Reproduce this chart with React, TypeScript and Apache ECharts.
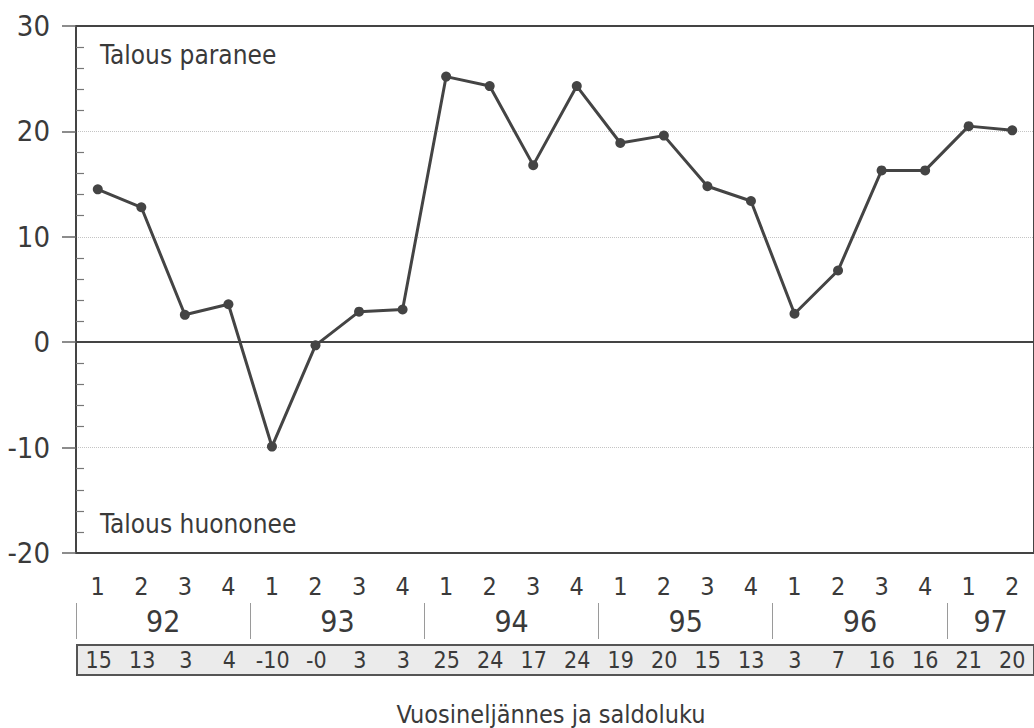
import React, { useEffect, useRef } from "react";
import * as echarts from "echarts";

const quarters = ["1","2","3","4","1","2","3","4","1","2","3","4","1","2","3","4","1","2","3","4","1","2"];
const years = ["92","92","92","92","93","93","93","93","94","94","94","94","95","95","95","95","96","96","96","96","97","97"];
const saldo = [14.5, 12.8, 2.6, 3.6, -9.9, -0.3, 2.9, 3.1, 25.2, 24.3, 16.8, 24.3, 18.9, 19.6, 14.8, 13.4, 2.7, 6.8, 16.3, 16.3, 20.5, 20.1];
const tableLabels = ["15","13","3","4","-10","-0","3","3","25","24","17","24","19","20","15","13","3","7","16","16","21","20"];
const yTicks = { min: -20, max: 30, interval: 10 };
const texts = { up: "Talous paranee", down: "Talous huononee", title: "Vuosineljännes ja saldoluku" };

const FONT = "'DejaVu Sans Condensed', 'Liberation Sans Narrow', sans-serif";
const TXT = "#3a3a3a";

export default function App() {
  const ref = useRef<HTMLDivElement>(null);
  useEffect(() => {
    if (!ref.current) return;
    const chart = echarts.init(ref.current, undefined, { renderer: "svg" });
    const band = 43.8;
    const gridW = band * quarters.length;
    const yearLabelIdx = new Set<number>();
    years.forEach((y, i) => {
      const first = years.indexOf(y);
      const last = years.lastIndexOf(y);
      const mid = Math.floor((first + last) / 2);
      if (i === mid) yearLabelIdx.add(i);
    });
    const option: any = {
      animation: false,
      backgroundColor: "#fff",
      textStyle: { fontFamily: FONT },
      grid: [
        { left: 76, top: 26, width: gridW, height: 527, show: true, borderColor: "#444", borderWidth: 2, backgroundColor: "transparent" },
        { left: 77, top: 645, width: gridW, height: 30, show: true, borderColor: "#555", borderWidth: 2, backgroundColor: "#ebebeb" },
      ],
      xAxis: [
        {
          type: "category", gridIndex: 0, data: quarters, position: "bottom",
          axisLine: { show: false }, axisTick: { show: false }, splitLine: { show: false },
          axisLabel: { interval: 0, margin: 33, verticalAlign: "middle", fontSize: 25, color: TXT, fontFamily: FONT },
        },
        {
          type: "category", gridIndex: 0, data: years, position: "bottom", offset: 50,
          axisLine: { show: false },
          axisTick: { show: true, length: 36, interval: (i: number) => i % 4 === 0, lineStyle: { color: "#9a9a9a", width: 1 } },
          splitLine: { show: false },
          axisLabel: {
            interval: 0, margin: 18, verticalAlign: "middle", fontSize: 30, color: TXT, fontFamily: FONT,
            padding: [0, 0, 0, band],
            formatter: (v: string, i: number) => (yearLabelIdx.has(i) ? v : ""),
          },
        },
        {
          type: "category", gridIndex: 1, data: tableLabels, position: "bottom",
          axisLine: { show: false }, axisTick: { show: false }, splitLine: { show: false },
          axisLabel: { interval: 0, inside: true, margin: 15, verticalAlign: "middle", fontSize: 23, color: TXT, fontFamily: FONT },
        },
      ],
      yAxis: [
        {
          type: "value", gridIndex: 0, min: yTicks.min, max: yTicks.max, interval: yTicks.interval,
          axisLine: { show: true, lineStyle: { color: "#444", width: 2 } },
          axisTick: { show: true, length: 14, lineStyle: { color: "#666", width: 1.5 } },
          minorTick: { show: true, splitNumber: 5, length: -8, lineStyle: { color: "#777", width: 1.2 } },
          axisLabel: { margin: 26, fontSize: 29, color: TXT, fontFamily: FONT },
          splitLine: {
            show: true,
            lineStyle: {
              type: "dotted", width: 1,
              color: ["rgba(0,0,0,0)", "#c4c4c4", "rgba(0,0,0,0)", "#c4c4c4", "#c4c4c4", "rgba(0,0,0,0)"],
            },
          },
        },
        { type: "value", gridIndex: 1, show: false, min: 0, max: 1 },
      ],
      series: [
        {
          type: "line", xAxisIndex: 0, yAxisIndex: 0, data: saldo,
          symbol: "circle", symbolSize: 10,
          lineStyle: { color: "#444", width: 3 },
          itemStyle: { color: "#444" },
          markLine: {
            silent: true, symbol: ["none", "none"], label: { show: false },
            lineStyle: { color: "#444", width: 2, type: "solid" },
            data: [{ yAxis: 0 }],
          },
          z: 3,
        },
      ],
      graphic: [
        { type: "text", x: 100, y: 55, style: { text: texts.up, fontSize: 26, fontFamily: FONT, fill: TXT, align: "left", verticalAlign: "middle" } },
        { type: "text", x: 100, y: 524, style: { text: texts.down, fontSize: 26, fontFamily: FONT, fill: TXT, align: "left", verticalAlign: "middle" } },
        { type: "text", x: 551, y: 714, style: { text: texts.title, fontSize: 25, fontFamily: FONT, fill: TXT, align: "center", verticalAlign: "middle" } },
      ],
    };
    chart.setOption(option);
    return () => chart.dispose();
  }, []);
  return <div ref={ref} style={{ position: "fixed", left: 0, top: 0, width: 1034, height: 728 }} />;
}
